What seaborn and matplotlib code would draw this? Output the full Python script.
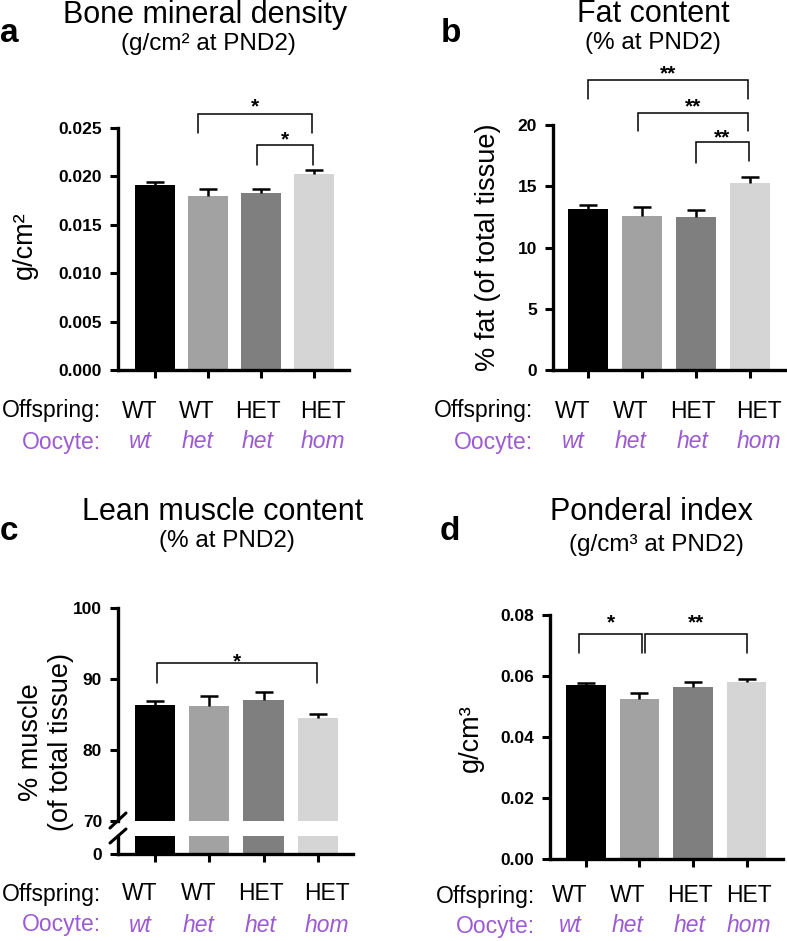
import numpy as np
import pandas as pd
import matplotlib
matplotlib.use("Agg")
import matplotlib.pyplot as plt
import seaborn as sns
from matplotlib.lines import Line2D

# ---------------- data ----------------
groups = ["WT/wt", "WT/het", "HET/het", "HET/hom"]
offspring = ["WT", "WT", "HET", "HET"]
oocyte = ["wt", "het", "het", "hom"]
bar_colors = ["#000000", "#a2a2a2", "#7f7f7f", "#d5d5d5"]

bmd_mean = [0.0191, 0.0180, 0.0183, 0.02025]
bmd_err = [0.0003, 0.0007, 0.00036, 0.0004]
fat_mean = [13.14, 12.57, 12.47, 15.24]
fat_err = [0.33, 0.76, 0.59, 0.49]
muscle_mean = [86.4, 86.2, 87.0, 84.5]
muscle_err = [0.5, 1.4, 1.1, 0.6]
pi_mean = [0.0570, 0.0524, 0.0564, 0.0581]
pi_err = [0.0007, 0.0019, 0.0017, 0.0010]

# brackets: (x_left, x_right, y_left_end, y_top, y_right_end, label, star_y)
bmd_brackets = [(0.81, 2.96, 0.02448, 0.02645, 0.02448, "*", 0.0279),
                (1.92, 2.98, 0.02118, 0.02324, 0.02118, "*", 0.02448)]
fat_brackets = [(0.0, 2.96, 22.1, 23.7, 22.1, "**", 24.7),
                (0.93, 2.96, 19.5, 21.0, 19.5, "**", 22.0),
                (2.0, 2.98, 16.9, 18.6, 17.1, "**", 19.5)]
muscle_brackets = [(0.04, 2.98, 89.4, 92.2, 89.4, "*", 93.4)]
pi_brackets = [(-0.12, 1.05, 0.0676, 0.0738, 0.0676, "*", 0.0796),
               (1.11, 3.0, 0.0676, 0.0738, 0.0676, "**", 0.0796)]

bmd_ticks = [0.0, 0.005, 0.010, 0.015, 0.020, 0.025]
fat_ticks = [0, 5, 10, 15, 20]
muscle_ticks = [70, 80, 90, 100]
pi_ticks = [0.0, 0.02, 0.04, 0.06, 0.08]

# ---------------- style ----------------
sns.set_style("ticks")
plt.rcParams["font.family"] = ["Liberation Sans", "DejaVu Sans"]
plt.rcParams.update({"text.color": "black", "axes.edgecolor": "black",
                     "axes.labelcolor": "black", "xtick.color": "black",
                     "ytick.color": "black"})
PURPLE = "#9c5bd3"
W, H = 787, 941
PT = 0.72  # points per pixel at 100 dpi
CAT_FS = 16.5

fig = plt.figure(figsize=(W / 100, H / 100), dpi=100)


def add_ax(left, top, right, bottom):
    return fig.add_axes([left / W, 1 - bottom / H, (right - left) / W, (bottom - top) / H])


def style_ax(ax, show_bottom=True):
    sns.despine(ax=ax)
    for s in ["left", "bottom"]:
        ax.spines[s].set_linewidth(2.4)
        ax.spines[s].set_color("black")
    if not show_bottom:
        ax.spines["bottom"].set_visible(False)
    ax.tick_params(axis="both", direction="out", length=6, width=2.2, pad=5.5,
                   labelsize=12.5, colors="black")
    for lab in ax.get_yticklabels():
        lab.set_fontweight("bold")
    ax.set_xlabel("")
    ax.set_ylabel("")


df_base = pd.DataFrame({"group": groups})
palette = dict(zip(groups, bar_colors))


def bars(ax, means, errs=None):
    d = df_base.assign(value=means)
    sns.barplot(data=d, x="group", y="value", hue="group", palette=palette,
                legend=False, width=0.74, errorbar=None, saturation=1,
                ax=ax, linewidth=0)
    if errs is not None:
        _, caps, _ = ax.errorbar(range(len(means)), means,
                                 yerr=[np.zeros(len(errs)), errs], fmt="none",
                                 ecolor="black", elinewidth=1.8, capsize=6.5,
                                 capthick=1.8, zorder=3)
        caps[0].set_visible(False)


def brackets(ax, items):
    for xl, xr, yl, yt, yr, lab, ys in items:
        ax.plot([xl, xl, xr, xr], [yl, yt, yt, yr], color="black", lw=1.1,
                clip_on=False, solid_joinstyle="miter")
        ax.annotate(lab, xy=((xl + xr) / 2, ys), xytext=(0, -0.58 * 15),
                    textcoords="offset points", ha="center", va="baseline",
                    fontsize=15, fontweight="bold", annotation_clip=False)


def cat_labels(ax, row1=41, row2=72, shifts=(-15, -11, -3, 9), head=-17):
    for i in range(4):
        ax.annotate(offspring[i], xy=(i, 0), xycoords=("data", "axes fraction"),
                    xytext=(shifts[i] * PT, -row1 * PT), textcoords="offset points",
                    ha="center", va="center", fontsize=CAT_FS, annotation_clip=False)
        ax.annotate(oocyte[i], xy=(i, 0), xycoords=("data", "axes fraction"),
                    xytext=(shifts[i] * PT, -row2 * PT), textcoords="offset points",
                    ha="center", va="center", fontsize=CAT_FS, style="italic",
                    color=PURPLE, annotation_clip=False)
    ax.annotate("Offspring:", xy=(0, 0), xycoords="axes fraction",
                xytext=(head * PT, -row1 * PT), textcoords="offset points",
                ha="right", va="center", fontsize=CAT_FS, annotation_clip=False)
    ax.annotate("Oocyte:", xy=(0, 0), xycoords="axes fraction",
                xytext=(head * PT, -row2 * PT), textcoords="offset points",
                ha="right", va="center", fontsize=CAT_FS, color=PURPLE,
                annotation_clip=False)


def ftext(x, y, s, **kw):
    fig.text(x / W, 1 - y / H, s, **kw)


# ---------------- panel a ----------------
ax_a = add_ax(118, 128, 349, 370)
bars(ax_a, bmd_mean, bmd_err)
ax_a.set_xlim(-0.70, 3.66)
ax_a.set_ylim(0, 0.025)
ax_a.set_yticks(bmd_ticks)
ax_a.set_yticklabels([f"{t:.3f}" for t in bmd_ticks])
ax_a.set_xticks(range(4))
ax_a.set_xticklabels([""] * 4)
style_ax(ax_a)
brackets(ax_a, bmd_brackets)
cat_labels(ax_a)

# ---------------- panel b ----------------
ax_b = add_ax(553, 125, 785, 370)
bars(ax_b, fat_mean, fat_err)
ax_b.set_xlim(-0.65, 3.65)
ax_b.set_ylim(0, 20)
ax_b.set_yticks(fat_ticks)
ax_b.set_yticklabels([str(t) for t in fat_ticks])
ax_b.set_xticks(range(4))
ax_b.set_xticklabels([""] * 4)
style_ax(ax_b)
brackets(ax_b, fat_brackets)
cat_labels(ax_b, head=-20)

# ---------------- panel c (broken axis) ----------------
ax_ct = add_ax(118, 608, 353, 821)
bars(ax_ct, muscle_mean, muscle_err)
ax_ct.set_xlim(-0.685, 3.65)
ax_ct.set_ylim(70, 100)
ax_ct.set_yticks(muscle_ticks)
ax_ct.set_yticklabels([str(t) for t in muscle_ticks])
ax_ct.set_xticks([])
style_ax(ax_ct, show_bottom=False)
brackets(ax_ct, muscle_brackets)

ax_cb = add_ax(118, 836, 353, 854)
bars(ax_cb, muscle_mean)
ax_cb.set_xlim(-0.685, 3.65)
ax_cb.set_ylim(0, 10)
ax_cb.set_yticks([0])
ax_cb.set_yticklabels(["0"])
ax_cb.set_xticks(range(4))
ax_cb.set_xticklabels([""] * 4)
style_ax(ax_cb)
cat_labels(ax_cb, row1=40, row2=71)

for y0, y1 in [(828, 813), (843, 829)]:
    fig.add_artist(Line2D([110 / W, 126 / W], [1 - y0 / H, 1 - y1 / H],
                          transform=fig.transFigure, color="black", lw=2.2))

# ---------------- panel d ----------------
ax_d = add_ax(550, 615, 783, 859)
bars(ax_d, pi_mean, pi_err)
ax_d.set_xlim(-0.67, 3.68)
ax_d.set_ylim(0, 0.08)
ax_d.set_yticks(pi_ticks)
ax_d.set_yticklabels([f"{t:.2f}" for t in pi_ticks])
ax_d.set_xticks(range(4))
ax_d.set_xticklabels([""] * 4)
style_ax(ax_d)
brackets(ax_d, pi_brackets)
cat_labels(ax_d, row1=37, row2=67, shifts=(-16, -12, -3, 2), head=-15)

# ---------------- titles, letters, y labels ----------------
ftext(205, 15, "Bone mineral density", ha="center", va="center", fontsize=22)
ftext(208, 44, "(g/cm² at PND2)", ha="center", va="center", fontsize=17.5)
ftext(0, 34, "a", ha="left", va="center", fontsize=24, fontweight="bold")

ftext(653, 14, "Fat content", ha="center", va="center", fontsize=22)
ftext(653, 43, "(% at PND2)", ha="center", va="center", fontsize=17.5)
ftext(441, 34, "b", ha="left", va="center", fontsize=24, fontweight="bold")

ftext(223, 512, "Lean muscle content", ha="center", va="center", fontsize=22)
ftext(227, 541, "(% at PND2)", ha="center", va="center", fontsize=17.5)
ftext(0, 531, "c", ha="left", va="center", fontsize=24, fontweight="bold")

ftext(651, 512, "Ponderal index", ha="center", va="center", fontsize=22)
ftext(656, 545, "(g/cm³ at PND2)", ha="center", va="center", fontsize=17.5)
ftext(440, 531, "d", ha="left", va="center", fontsize=24, fontweight="bold")

ftext(25, 245, "g/cm²", rotation=90, ha="center", va="center", fontsize=19.5)
ftext(488, 247, "% fat (of total tissue)", rotation=90, ha="center", va="center", fontsize=19.5)
ftext(46, 742, "% muscle\n(of total tissue)", rotation=90, ha="center", va="center",
      fontsize=19.5, multialignment="center")
ftext(471, 738, "g/cm³", rotation=90, ha="center", va="center", fontsize=19.5)

fig.savefig("out.png", dpi=100)
